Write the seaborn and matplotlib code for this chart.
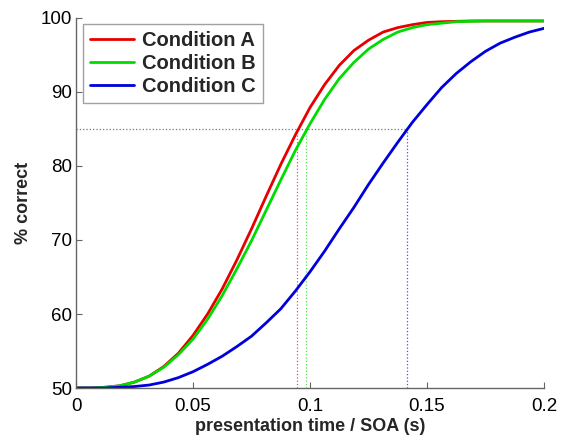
import pandas as pd
import seaborn as sns
import matplotlib.pyplot as plt

# values (presentation time in s, % correct)
soa = [0, 0.00625, 0.0125, 0.01875, 0.025, 0.03125, 0.0375, 0.04375, 0.05, 0.05625,
       0.0625, 0.06875, 0.075, 0.08125, 0.0875, 0.09375, 0.1, 0.10625, 0.1125, 0.11875,
       0.125, 0.13125, 0.1375, 0.14375, 0.15, 0.15625, 0.1625, 0.16875, 0.175, 0.18125,
       0.1875, 0.19375, 0.2]
cond_a = [50, 50.0, 50.1, 50.3, 50.8, 51.6, 52.9, 54.7, 57.1, 60.0,
          63.4, 67.3, 71.5, 75.9, 80.2, 84.2, 87.9, 91.0, 93.6, 95.6,
          97.0, 98.1, 98.7, 99.1, 99.4, 99.5, 99.55, 99.6, 99.6, 99.6,
          99.6, 99.6, 99.6]
cond_b = [50, 50.0, 50.1, 50.3, 50.8, 51.6, 52.8, 54.5, 56.6, 59.3,
          62.5, 66.1, 69.9, 74.0, 78.1, 82.1, 85.7, 89.0, 91.8, 94.0,
          95.8, 97.1, 98.1, 98.7, 99.1, 99.3, 99.5, 99.55, 99.6, 99.6,
          99.6, 99.6, 99.6]
cond_c = [50, 50.0, 50.0, 50.1, 50.2, 50.4, 50.8, 51.4, 52.2, 53.2,
          54.3, 55.6, 57.0, 58.8, 60.7, 63.1, 65.7, 68.5, 71.5, 74.4,
          77.5, 80.4, 83.2, 85.9, 88.3, 90.6, 92.5, 94.1, 95.5, 96.6,
          97.4, 98.1, 98.6]
conditions = ['Condition A', 'Condition B', 'Condition C']
thresholds = [0.0943, 0.0985, 0.1414]
criterion = 85
colors = ['#e60000', '#00dc00', '#0000dc']
xticks = [0, 0.05, 0.1, 0.15, 0.2]
xticklabels = ['0', '0.05', '0.1', '0.15', '0.2']
yticks = [50, 60, 70, 80, 90, 100]

df = pd.concat([
    pd.DataFrame({'soa': soa, 'pc': vals, 'cond': name})
    for name, vals in zip(conditions, [cond_a, cond_b, cond_c])
])

sns.set_style('white')
plt.rcParams['font.family'] = ['Liberation Sans', 'DejaVu Sans']

fig = plt.figure(figsize=(5.67, 4.4), dpi=100)
ax = fig.add_axes([76 / 567, 52 / 440, 468 / 567, 370 / 440])

# criterion lines
ax.plot([0, max(thresholds)], [criterion, criterion], ls=':', color='#777777', lw=0.9)
for t, c in zip(thresholds, colors):
    ax.plot([t, t], [50, criterion], ls=':', color=c, lw=0.9, alpha=0.7)

sns.lineplot(data=df, x='soa', y='pc', hue='cond', palette=colors, lw=2, ax=ax)

ax.set_xlim(0, 0.2)
ax.set_ylim(50, 100)
ax.set_xticks(xticks)
ax.set_xticklabels(xticklabels)
ax.set_yticks(yticks)
ax.set_xlabel('presentation time / SOA (s)', fontsize=13, fontweight='bold', labelpad=2)
ax.set_ylabel('% correct', fontsize=13, fontweight='bold', labelpad=6)
ax.tick_params(bottom=True, left=True, direction='in', length=4, width=0.8, colors='#666666',
               labelcolor='black', labelsize=13.5, pad=3)
ax.tick_params(axis='x', pad=7)
for s in ['top', 'right']:
    ax.spines[s].set_visible(False)
for s in ['left', 'bottom']:
    ax.spines[s].set_color('#666666')
    ax.spines[s].set_linewidth(1)

leg = ax.legend(loc='upper left', bbox_to_anchor=(0.014, 0.983), frameon=True, fancybox=False,
                prop={'weight': 'bold', 'size': 14.5}, handlelength=2.2, borderpad=0.35,
                labelspacing=0.2, handletextpad=0.4, borderaxespad=0)
leg.get_frame().set_edgecolor('#888888')
leg.get_frame().set_linewidth(1)

plt.savefig('out.png', dpi=100)
